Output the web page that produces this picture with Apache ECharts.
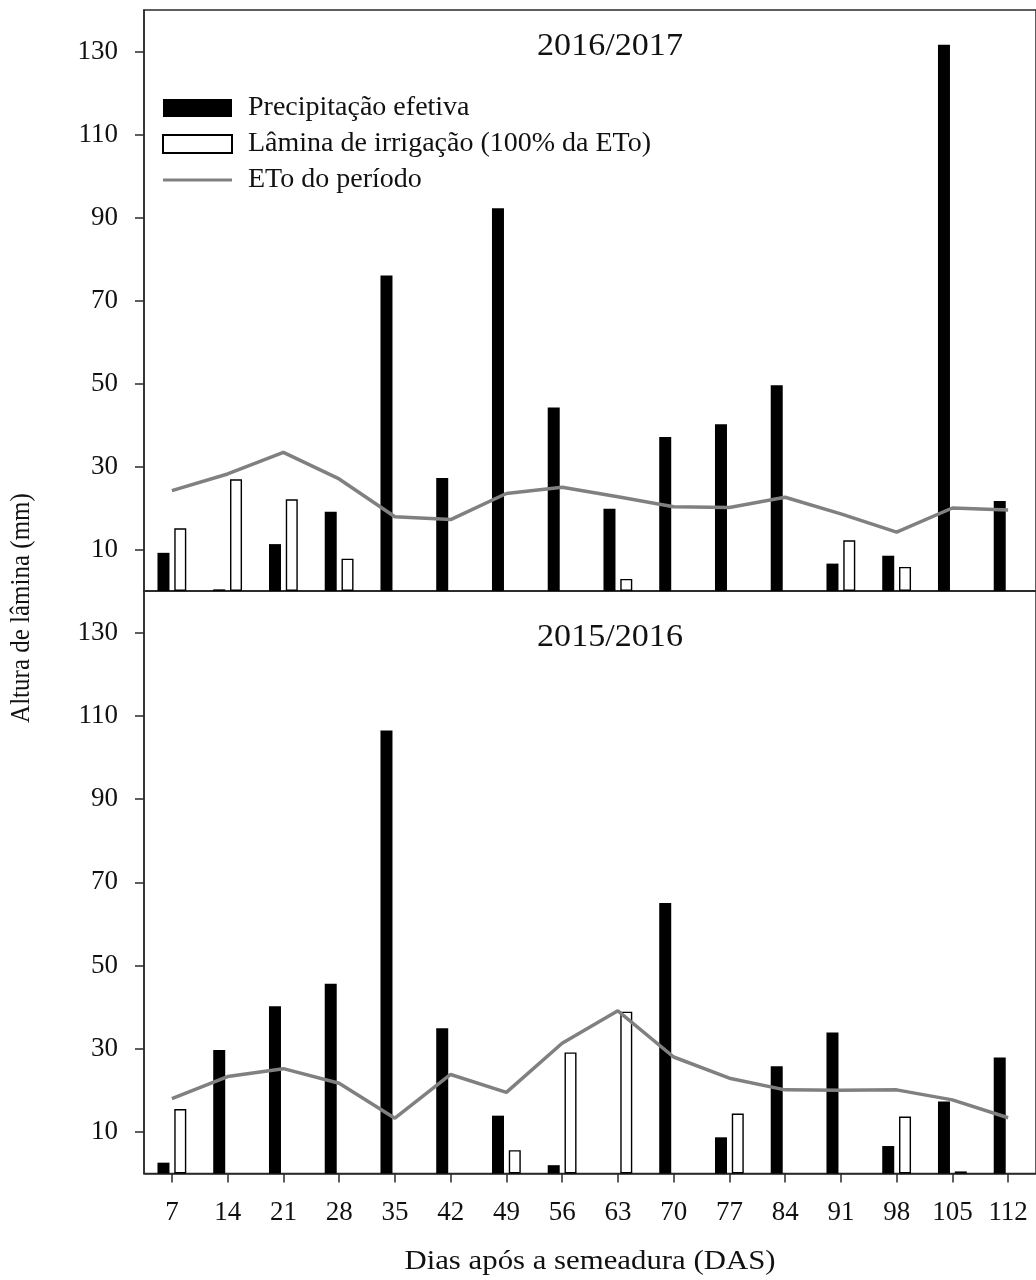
<!DOCTYPE html>
<html>
<head>
<meta charset="utf-8">
<script src="https://cdn.jsdelivr.net/npm/echarts@6/dist/echarts.min.js"></script>
<style>
  html, body { margin: 0; padding: 0; background: #ffffff; }
  #chart { width: 1036px; height: 1280px; }
</style>
</head>
<body>
<div id="chart"></div>
<script>
// Days after sowing (DAS)
const days = ['7', '14', '21', '28', '35', '42', '49', '56', '63', '70', '77', '84', '91', '98', '105', '112'];
const yTickValues = [10, 30, 50, 70, 90, 110, 130];

// Season 2016/2017 (mm)
const precip1617 = [9.2, 0.4, 11.3, 19.1, 76.0, 27.2, 92.2, 44.2, 19.8, 37.1, 40.2, 49.6, 6.6, 8.5, 131.6, 21.7];
const irrig1617  = [15.1, 26.9, 22.1, 7.8, null, null, null, null, 2.9, null, null, null, 12.2, 5.8, null, null];
const eto1617    = [24.2, 28.2, 33.4, 27.0, 17.9, 17.2, 23.5, 25.0, 22.7, 20.3, 20.1, 22.6, 18.6, 14.2, 20.0, 19.5];

// Season 2015/2016 (mm)
const precip1516 = [2.6, 29.7, 40.2, 45.6, 106.5, 34.9, 13.9, 2.0, null, 65.0, 8.7, 25.8, 33.9, 6.6, 17.3, 27.9];
const irrig1516  = [15.5, null, null, null, null, null, 5.6, 29.1, 38.9, null, 14.4, null, null, 13.7, 0.5, null];
const eto1516    = [18.0, 23.3, 25.2, 21.7, 13.3, 23.8, 19.5, 31.3, 39.1, 28.0, 22.9, 20.1, 20.0, 20.1, 17.7, 13.4];

const NAME_P = 'Precipitação efetiva';
const NAME_I = 'Lâmina de irrigação (100% da ETo)';
const NAME_E = 'ETo do período';

const FONT = 'Liberation Serif';
const INK = '#111111';
const FRAME = '#2a2a2a';
const ETO_GRAY = '#808080';

const chart = echarts.init(document.getElementById('chart'), null, { renderer: 'canvas' });

function xAxisFor(gridIndex, withLabels) {
  return {
    type: 'category',
    gridIndex: gridIndex,
    data: days,
    boundaryGap: true,
    axisLine: { show: true, lineStyle: { color: FRAME, width: 1.5 } },
    axisTick: { show: withLabels, alignWithLabel: true, length: 9, lineStyle: { color: FRAME, width: 1.5 } },
    axisLabel: { show: withLabels, margin: 26, fontFamily: FONT, fontSize: 27, color: INK },
    splitLine: { show: false }
  };
}

function yAxisFor(gridIndex) {
  return {
    type: 'value',
    gridIndex: gridIndex,
    min: 0,
    max: 140,
    axisLine: { show: true, lineStyle: { color: FRAME, width: 1.5 } },
    axisTick: { show: true, length: 9, customValues: yTickValues, lineStyle: { color: FRAME, width: 1.5 } },
    axisLabel: { show: true, margin: 26, customValues: yTickValues, fontFamily: FONT, fontSize: 27, color: INK },
    splitLine: { show: false }
  };
}

function seriesFor(idx, precip, irrig, eto) {
  return [
    {
      name: NAME_P, type: 'bar', xAxisIndex: idx, yAxisIndex: idx,
      data: precip, barWidth: 12, barGap: '40%',
      itemStyle: { color: '#000000' }
    },
    {
      name: NAME_I, type: 'bar', xAxisIndex: idx, yAxisIndex: idx,
      data: irrig, barWidth: 12, barGap: '40%',
      itemStyle: { color: '#ffffff', borderColor: '#000000', borderWidth: 1.4 }
    },
    {
      name: NAME_E, type: 'line', xAxisIndex: idx, yAxisIndex: idx,
      data: eto, symbol: 'none', showSymbol: false, z: 5,
      lineStyle: { color: ETO_GRAY, width: 3.5 },
      itemStyle: { color: ETO_GRAY }
    }
  ];
}

const option = {
  backgroundColor: '#ffffff',
  animation: false,
  grid: [
    { left: 144, top: 10, width: 896, height: 581, show: true, borderColor: FRAME, borderWidth: 1.5, backgroundColor: 'transparent' },
    { left: 144, top: 591, width: 896, height: 582.5, show: true, borderColor: FRAME, borderWidth: 1.5, backgroundColor: 'transparent' }
  ],
  xAxis: [xAxisFor(0, false), xAxisFor(1, true)],
  yAxis: [yAxisFor(0), yAxisFor(1)],
  legend: {
    orient: 'vertical',
    left: 162,
    top: 94,
    padding: 0,
    itemWidth: 69,
    itemHeight: 18,
    itemGap: 8,
    data: [
      { name: NAME_P, icon: 'rect' },
      { name: NAME_I, icon: 'rect' },
      { name: NAME_E, icon: 'path://M0,0H69V3H0Z', itemStyle: { color: ETO_GRAY, borderWidth: 0 } }
    ],
    textStyle: { fontFamily: FONT, fontSize: 28, color: INK, padding: [0, 0, 0, 11] }
  },
  graphic: [
    { type: 'text', x: 610, y: 47, scaleX: 1.1, style: { text: '2016/2017', font: '31px "Liberation Serif"', fill: INK, textAlign: 'center', textVerticalAlign: 'middle' } },
    { type: 'text', x: 610, y: 638, scaleX: 1.1, style: { text: '2015/2016', font: '31px "Liberation Serif"', fill: INK, textAlign: 'center', textVerticalAlign: 'middle' } },
    { type: 'text', x: 22, y: 608, rotation: Math.PI / 2, scaleY: 1.1, style: { text: 'Altura de lâmina (mm)', font: '25px "Liberation Serif"', fill: INK, textAlign: 'center', textVerticalAlign: 'middle' } },
    { type: 'text', x: 590, y: 1262, scaleX: 1.1, style: { text: 'Dias após a semeadura (DAS)', font: '28px "Liberation Serif"', fill: INK, textAlign: 'center', textVerticalAlign: 'middle' } }
  ],
  series: [].concat(
    seriesFor(0, precip1617, irrig1617, eto1617),
    seriesFor(1, precip1516, irrig1516, eto1516)
  )
};

chart.setOption(option);
</script>
</body>
</html>
